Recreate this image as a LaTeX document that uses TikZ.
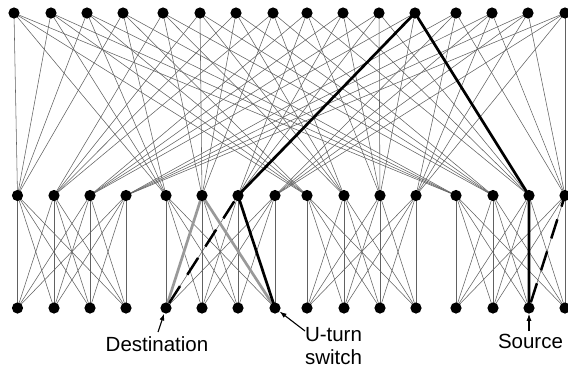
\documentclass[tikz,border=0pt]{standalone}
\usepackage{fontspec}
\setmainfont{Liberation Sans}
\usetikzlibrary{arrows.meta}
\tikzset{
 wire/.style={draw=black!62, line width=0.55pt},
 hot/.style={draw=black, line width=2.7pt},
 warm/.style={draw=black!40, line width=2.7pt},
 alt/.style={draw=black, line width=2.5pt, dash pattern=on 20pt off 13.5pt, dash phase=27.5pt},
 dot/.style={circle, fill=black, inner sep=0pt, minimum size=11.2pt},
 lab/.style={font=\fontsize{20.5}{23.5}\selectfont, inner sep=0pt},
 pointer/.style={draw=black, line width=1.1pt, -{Latex[length=7pt,width=5pt]}}
}
\begin{document}
\begin{tikzpicture}[x=1pt,y=-1pt]
\useasboundingbox (0,0) rectangle (568,368);
\foreach \x [count=\i from 0] in {14,51,87,123,163,200,236,273,307,343,379,415,456,492,528,565}
  {\coordinate (t\i) at (\x,13);}
\foreach \x [count=\i from 0] in {17.5,54,90,126,166,202,238,275,307,344,380,416,456,493,529,565}
  {\coordinate (m\i) at (\x,195.5); \coordinate (b\i) at (\x,308);}
% top to middle
\foreach \p in {0,...,3} {
  \foreach \k in {0,...,3} {
    \foreach \g in {0,...,3} {
      \pgfmathtruncatemacro\ti{4*\p+\k}
      \pgfmathtruncatemacro\mi{4*\g+\p}
      \draw[wire] (t\ti) -- (m\mi);
    }
  }
}
% middle to bottom
\foreach \g in {0,...,3} {
  \foreach \a in {0,...,3} {
    \foreach \c in {0,...,3} {
      \pgfmathtruncatemacro\mi{4*\g+\a}
      \pgfmathtruncatemacro\bi{4*\g+\c}
      \draw[wire] (m\mi) -- (b\bi);
    }
  }
}
% highlighted routes
\draw[warm] (b7) -- (m5) -- (b4);
\draw[hot] (b14) -- (m14) -- (t11) -- (m6) -- (b7);
\draw[alt] (b4) -- (m6);
\draw[alt] (b14) -- (m15);
% switches
\foreach \i in {0,...,15} {
  \node[dot] (T\i) at (t\i) {};
  \node[dot] (M\i) at (m\i) {};
  \node[dot] (B\i) at (b\i) {};
}
% labels
\node[lab, anchor=base] (dest) at (157,351.5) {Destination};
\node[lab, align=center] (uturn) at (333.5,346) {U-turn\\switch};
\node[lab, anchor=base] (src) at (530.5,348) {Source};
\coordinate (dA) at (158,332);
\coordinate (uA) at (305,331);
\coordinate (sA) at (529,331);
\draw[pointer] (dA) -- (B4);
\draw[pointer] (uA) -- (B7);
\draw[pointer] (sA) -- (B14);
\end{tikzpicture}
\end{document}
